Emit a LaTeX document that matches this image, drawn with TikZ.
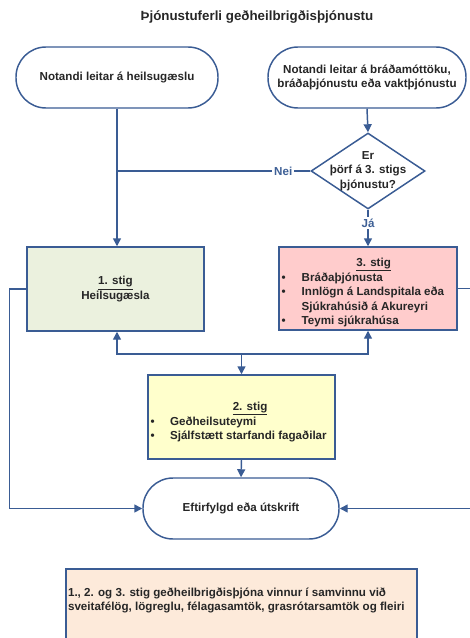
\documentclass[tikz,border=0pt]{standalone}
\usepackage{fontspec}
\setmainfont{Liberation Sans}
\usetikzlibrary{shapes.geometric,arrows.meta}
\definecolor{lineblue}{RGB}{58,92,148}
\definecolor{labelblue}{RGB}{62,96,150}
\definecolor{greenfill}{RGB}{235,241,222}
\definecolor{pinkfill}{RGB}{255,204,204}
\definecolor{yellowfill}{RGB}{255,255,204}
\definecolor{peachfill}{RGB}{253,234,218}
\tikzset{
  base/.style={draw=lineblue, line width=1.1pt, font=\fontsize{8.7}{10.8}\selectfont\bfseries, text=black!85},
  terminal/.style={base, rectangle, rounded corners=22.5pt, minimum height=45.75pt, fill=white},
  stagebox/.style={base, rectangle, minimum width=133pt, minimum height=63pt},
  decision/.style={base, diamond, minimum width=85.5pt, minimum height=57pt, inner sep=0pt, fill=white},
  conn/.style={draw=lineblue, line width=1.1pt},
  arr/.style={conn, -{Triangle[length=6pt,width=6pt]}},
  lbl/.style={font=\fontsize{8.7}{9}\selectfont\bfseries, text=labelblue, fill=white, inner sep=1.5pt},
}
\begin{document}
\begin{tikzpicture}[x=0.75pt,y=-0.75pt]
\useasboundingbox (0,0) rectangle (470,638);
\clip (0,0) rectangle (470,638);

\node[font=\fontsize{10}{12}\selectfont\bfseries, text=black!85] (title) at (257,17) {Þjónustuferli geðheilbrigðisþjónustu};

\node[terminal, minimum width=151.5pt] (lo) at (117,77.5) {Notandi leitar á heilsugæslu};
\node[terminal, minimum width=148.5pt, align=center] (ro) at (367,77.5) {Notandi leitar á bráðamóttöku,\\bráðaþjónustu eða vaktþjónustu};

\node[decision, label={[base, draw=none, align=center, font=\fontsize{8.7}{10.9}\selectfont\bfseries]center:Er\\þörf á 3. stigs\\þjónustu?}] (dia) at (368,171) {};

\node[stagebox, fill=greenfill, minimum width=132.75pt, align=center] (s1) at (115.5,289) {\underline{1. stig}\\Heilsugæsla};
\node[stagebox, fill=pinkfill, minimum width=133.5pt, minimum height=62.25pt] (s3) at (368,288.5) {};
\node[base, draw=none, anchor=north west, inner sep=0pt, align=left] (s3t) at (281,255.5) {%
\begin{tabular}{@{}p{15pt}@{}l@{}}
\multicolumn{2}{@{}c@{}}{\hspace{16pt}\underline{3. stig}}\\
\textbullet & Bráðaþjónusta\\
\textbullet & Innlögn á Landspitala eða\\
 & Sjúkrahúsið á Akureyri\\
\textbullet & Teymi sjúkrahúsa
\end{tabular}};

\node[stagebox, fill=yellowfill, minimum width=140.25pt] (s2) at (241.5,417) {};
\node[base, draw=none, anchor=north west, inner sep=0pt, align=left] (s2t) at (150,399.5) {%
\begin{tabular}{@{}p{14.5pt}@{}l@{}}
\multicolumn{2}{@{}c@{}}{\hspace{17pt}\underline{2. stig}}\\
\textbullet & Geðheilsuteymi\\
\textbullet & Sjálfstætt starfandi fagaðilar
\end{tabular}};

\node[terminal, minimum width=147pt] (eft) at (241,508.5) {Eftirfylgd eða útskrift};

\draw[base, fill=peachfill] (66,569) rectangle (417,690);
\node[base, draw=none, anchor=north west, inner sep=1pt, align=left] (note) at (66,586) {1., 2. og 3. stig geðheilbrigðisþjóna vinnur í samvinnu við\\sveitafélög, lögreglu, félagasamtök, grasrótarsamtök og fleiri};

% connectors
\draw[arr] (lo.south) -- (lo.south |- s1.north);
\draw[arr] (ro.south) -- (dia.north);
\draw[conn] (dia.west) -- node[lbl, pos=0.14] {Nei} (lo.south |- dia.west);
\draw[arr] (dia.south) -- node[lbl, pos=0.36] {Já} (s3.north);
\coordinate (j) at (241.5,354);
\draw[arr] (j) -- (s2.north);
\draw[arr] (j) -| (lo.south |- s1.south);
\draw[arr] (j) -| (s3.south);
\draw[arr] (s2.south) -- (eft.north);
\draw[arr] (s1.west) -- ++(-17,0) |- (eft.west);
\draw[arr] (s3.east) -- ++(16,0) |- (eft.east);
\end{tikzpicture}
\end{document}
